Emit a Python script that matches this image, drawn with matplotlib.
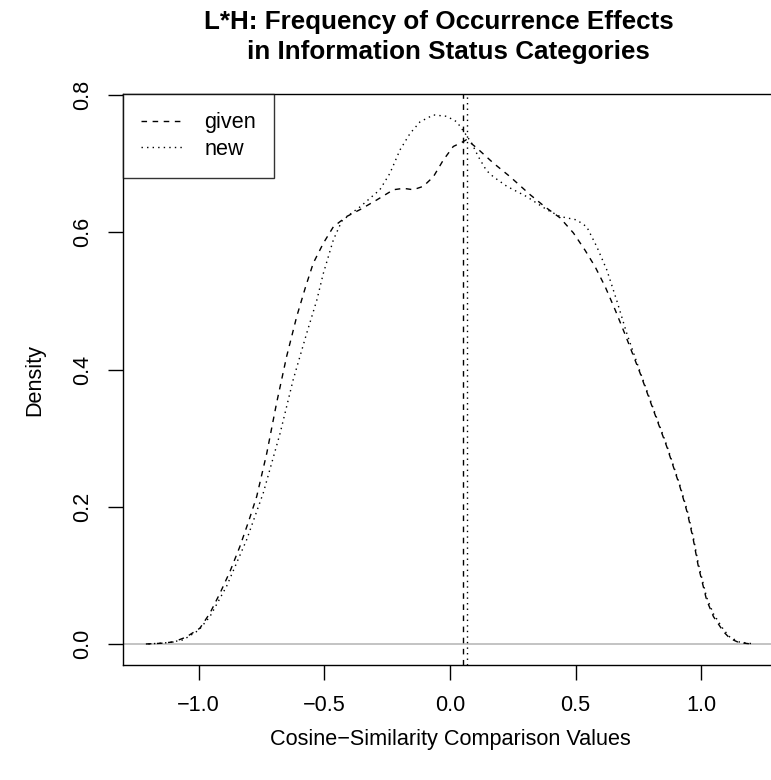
import matplotlib
matplotlib.use('agg')
import matplotlib.pyplot as plt

plt.rcParams['font.family'] = ['Liberation Sans', 'DejaVu Sans']

W, H = 771, 780

# density curves
given_x = [-1.21, -1.15, -1.10, -1.05, -0.995, -0.955, -0.915, -0.875, -0.836, -0.80,
           -0.769, -0.729, -0.690, -0.650, -0.610, -0.575, -0.544, -0.504, -0.464, -0.411,
           -0.358, -0.292, -0.225, -0.185, -0.146, -0.106, -0.066, -0.027, 0.013, 0.047,
           0.066, 0.106, 0.172, 0.239, 0.318, 0.378, 0.438, 0.491, 0.537, 0.577,
           0.617, 0.657, 0.700, 0.756, 0.809, 0.862, 0.915, 0.945, 0.968, 0.988,
           1.021, 1.048, 1.088, 1.114, 1.15, 1.20]
given_y = [0.000, 0.001, 0.003, 0.010, 0.023, 0.045, 0.074, 0.106, 0.142, 0.180,
           0.215, 0.278, 0.351, 0.419, 0.477, 0.520, 0.555, 0.584, 0.608, 0.623,
           0.633, 0.647, 0.662, 0.664, 0.662, 0.667, 0.681, 0.705, 0.725, 0.731,
           0.735, 0.723, 0.701, 0.681, 0.655, 0.637, 0.621, 0.599, 0.574, 0.550,
           0.521, 0.487, 0.448, 0.395, 0.341, 0.288, 0.229, 0.190, 0.152, 0.113,
           0.064, 0.040, 0.018, 0.008, 0.002, 0.000]

new_x = [-1.20, -1.12, -1.061, -1.00, -0.955, -0.889, -0.809, -0.743, -0.676, -0.624,
         -0.570, -0.530, -0.504, -0.464, -0.431, -0.395, -0.358, -0.279, -0.239, -0.199,
         -0.159, -0.119, -0.066, -0.013, 0.027, 0.060, 0.086, 0.113, 0.145, 0.172,
         0.226, 0.305, 0.385, 0.438, 0.504, 0.544, 0.584, 0.624, 0.663, 0.703,
         0.756, 0.809, 0.862, 0.915, 0.945, 0.968, 0.988, 1.021, 1.048, 1.088,
         1.114, 1.15, 1.21]
new_y = [0.000, 0.002, 0.006, 0.020, 0.040, 0.084, 0.152, 0.220, 0.307, 0.385,
         0.453, 0.501, 0.540, 0.589, 0.616, 0.627, 0.637, 0.662, 0.686, 0.720,
         0.744, 0.761, 0.771, 0.769, 0.761, 0.744, 0.730, 0.710, 0.690, 0.681,
         0.667, 0.652, 0.633, 0.623, 0.618, 0.608, 0.579, 0.545, 0.501, 0.453,
         0.397, 0.343, 0.290, 0.231, 0.193, 0.156, 0.117, 0.068, 0.044, 0.021,
         0.010, 0.003, 0.000]

given_mean = 0.050
new_mean = 0.066

xticks = [-1.0, -0.5, 0.0, 0.5, 1.0]
yticks = [0.0, 0.2, 0.4, 0.6, 0.8]

fs = 15.6
lw = 1.0

fig = plt.figure(figsize=(W / 100, H / 100), dpi=100)
left, right, top, bottom = 123, 777, 94, 664.7
ax = fig.add_axes([left / W, 1 - bottom / H, (right - left) / W, (bottom - top) / H])

ax.axhline(0, color='#bebebe', lw=1.3, zorder=1)
ax.plot(given_x, given_y, color='black', lw=lw, ls=(0, (4, 4)), label='given')
ax.plot(new_x, new_y, color='black', lw=lw, ls=(0, (1, 3)), label='new')
ax.axvline(given_mean, color='black', lw=lw, ls=(0, (4, 4)))
ax.axvline(new_mean, color='black', lw=lw, ls=(0, (1, 3)))

ax.set_xlim(-1.301, 1.301)
ax.set_ylim(-0.0302, 0.8015)
ax.set_xticks(xticks)
ax.set_xticklabels([f"{t:.1f}".replace('-', '\u2212') for t in xticks])
ax.set_yticks(yticks)
ax.set_yticklabels([f"{t:.1f}" for t in yticks], rotation=90, va='center')
ax.tick_params(direction='out', length=10.5, width=lw, labelsize=fs, pad=11)

for s in ax.spines.values():
    s.set_linewidth(lw)

leg = ax.legend(loc='upper left', fontsize=fs, frameon=True, fancybox=False,
                edgecolor='black', borderaxespad=0, borderpad=0.85,
                handlelength=2.0, handletextpad=0.9, labelspacing=0.25)
leg.get_frame().set_linewidth(lw)

fig.text(439 / W, 1 - 22 / H, "L*H: Frequency of Occurrence Effects",
         ha='center', va='center', fontsize=fs * 1.2, fontweight='bold')
fig.text(448 / W, 1 - 52 / H, "in Information Status Categories",
         ha='center', va='center', fontsize=fs * 1.2, fontweight='bold')
fig.text(35 / W, 1 - 380 / H, "Density", rotation=90, ha='center', va='center', fontsize=fs)
fig.text(450 / W, 1 - 740 / H, "Cosine\u2212Similarity Comparison Values",
         ha='center', va='center', fontsize=fs)

fig.savefig('out.png', dpi=100)
plt.close(fig)
